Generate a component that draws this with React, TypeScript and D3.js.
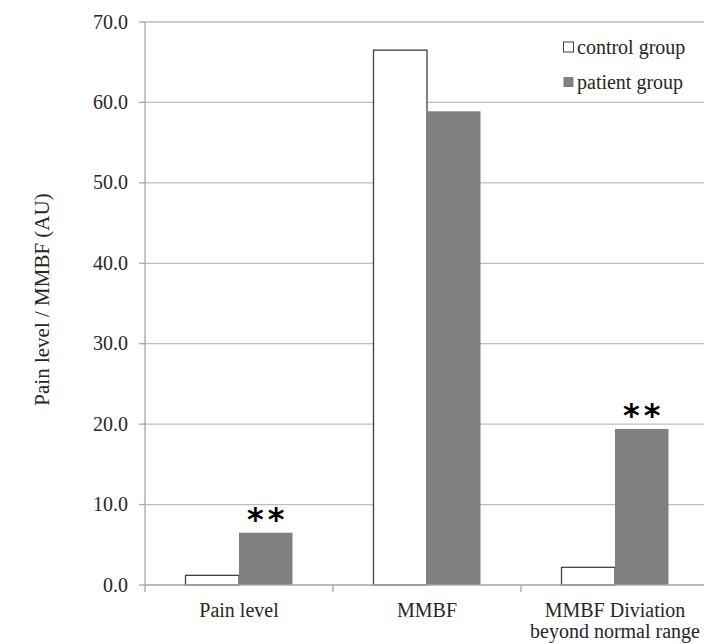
import React, { useRef, useEffect } from "react";
import * as d3 from "d3";

const categories = ["Pain level", "MMBF", "MMBF Diviation|beyond normal range"];
const seriesNames = ["control group", "patient group"];
const controlValues = [1.2, 66.5, 2.2];
const patientValues = [6.5, 58.9, 19.4];
const significant = [true, false, true];
const yTicks = [0, 10, 20, 30, 40, 50, 60, 70];

const W = 704;
const H = 644;

const App = () => {
  const ref = useRef<SVGSVGElement>(null);

  useEffect(() => {
    const svg = d3.select(ref.current).attr("width", W).attr("height", H);
    svg.selectAll("*").remove();
    const font = "'Liberation Serif', 'Times New Roman', 'DejaVu Serif', serif";
    const textColor = "#262626";

    // plot runs past the right edge of the picture, as in the original crop
    const x = d3.scaleBand().domain(categories).range([145, 709]);
    const inner = d3.scaleBand().domain(seriesNames).range([0, 107]);
    const y = d3.scaleLinear().domain([0, 70]).range([585, 22]);
    const groupOffset = (c: string) => x(c)! + x.bandwidth() / 2 - 53.5;

    // gridlines
    svg
      .append("g")
      .selectAll("line")
      .data(yTicks.filter((d) => d > 0))
      .join("line")
      .attr("x1", 145)
      .attr("x2", 704)
      .attr("y1", (d) => y(d))
      .attr("y2", (d) => y(d))
      .attr("stroke", "#bdbdbd")
      .attr("stroke-width", 1.3);

    // y axis
    svg
      .append("line")
      .attr("x1", 145)
      .attr("x2", 145)
      .attr("y1", y(70))
      .attr("y2", y(0))
      .attr("stroke", "#a6a6a6")
      .attr("stroke-width", 1.3);
    svg
      .append("g")
      .selectAll("line")
      .data(yTicks)
      .join("line")
      .attr("x1", 139)
      .attr("x2", 145)
      .attr("y1", (d) => y(d))
      .attr("y2", (d) => y(d))
      .attr("stroke", "#a6a6a6")
      .attr("stroke-width", 1.3);
    svg
      .append("g")
      .selectAll("text")
      .data(yTicks)
      .join("text")
      .attr("x", 128)
      .attr("y", (d) => y(d))
      .attr("dy", "0.33em")
      .attr("text-anchor", "end")
      .style("font-family", font)
      .attr("font-size", 20)
      .attr("fill", textColor)
      .text((d) => d.toFixed(1));

    svg
      .append("text")
      .attr("transform", `translate(49, ${(y(0) + y(70)) / 2 - 4}) rotate(-90)`)
      .attr("text-anchor", "middle")
      .style("font-family", font)
      .attr("font-size", 21)
      .attr("fill", textColor)
      .text("Pain level / MMBF (AU)");

    // bars
    svg
      .append("g")
      .selectAll("rect")
      .data(categories)
      .join("rect")
      .attr("x", (d) => groupOffset(d) + inner("control group")!)
      .attr("width", inner.bandwidth())
      .attr("y", (_, i) => y(controlValues[i]))
      .attr("height", (_, i) => y(0) - y(controlValues[i]))
      .attr("fill", "#ffffff")
      .attr("stroke", "#404040")
      .attr("stroke-width", 1.3);

    svg
      .append("g")
      .selectAll("rect")
      .data(categories)
      .join("rect")
      .attr("x", (d) => groupOffset(d) + inner("patient group")!)
      .attr("width", inner.bandwidth())
      .attr("y", (_, i) => y(patientValues[i]))
      .attr("height", (_, i) => y(0) - y(patientValues[i]))
      .attr("fill", "#808080");

    // significance markers
    svg
      .append("g")
      .selectAll("text")
      .data(categories.filter((_, i) => significant[i]))
      .join("text")
      .attr(
        "x",
        (d) => groupOffset(d) + inner("patient group")! + inner.bandwidth() / 2 + 2
      )
      .attr("y", (d) => y(patientValues[categories.indexOf(d)]) - 3)
      .attr("text-anchor", "middle")
      .style("font-family", "DejaVu Sans, sans-serif")
      .attr("font-weight", "bold")
      .attr("font-size", 32)
      .attr("letter-spacing", 4)
      .attr("fill", "#000")
      .text("**");

    // x axis
    svg
      .append("line")
      .attr("x1", 145)
      .attr("x2", 704)
      .attr("y1", y(0))
      .attr("y2", y(0))
      .attr("stroke", "#a6a6a6")
      .attr("stroke-width", 1.3);
    svg
      .append("g")
      .selectAll("line")
      .data([145, ...categories.map((c) => x(c)! + x.step())])
      .join("line")
      .attr("x1", (d) => d)
      .attr("x2", (d) => d)
      .attr("y1", y(0))
      .attr("y2", y(0) + 7)
      .attr("stroke", "#a6a6a6")
      .attr("stroke-width", 1.3);

    const labels = svg
      .append("g")
      .selectAll("text")
      .data(categories)
      .join("text")
      .attr("text-anchor", "middle")
      .style("font-family", font)
      .attr("font-size", 20)
      .attr("fill", textColor);
    labels.each(function (d) {
      const lines = (d as string).split("|");
      const t = d3.select(this);
      lines.forEach((line, k) => {
        t.append("tspan")
          .attr("x", x(d as string)! + x.bandwidth() / 2)
          .attr("y", 617 + k * 21)
          .text(line);
      });
    });

    // legend
    const legend = svg
      .append("g")
      .selectAll("g")
      .data(seriesNames)
      .join("g")
      .attr("transform", (_, i) => `translate(563, ${47 + i * 35})`);
    legend
      .append("rect")
      .attr("x", 0.5)
      .attr("y", -5)
      .attr("width", 10)
      .attr("height", 10)
      .attr("fill", (_, i) => (i === 0 ? "#ffffff" : "#808080"))
      .attr("stroke", (_, i) => (i === 0 ? "#404040" : "none"));
    legend
      .append("text")
      .attr("x", 14)
      .attr("y", 0)
      .attr("dy", "0.33em")
      .style("font-family", font)
      .attr("font-size", 20)
      .attr("fill", textColor)
      .text((d) => d);

    return () => {
      d3.select(ref.current).selectAll("*").remove();
    };
  }, []);

  return (
    <svg
      ref={ref}
      style={{ position: "absolute", left: 0, top: 0, background: "#fff" }}
    ></svg>
  );
};

export default App;
